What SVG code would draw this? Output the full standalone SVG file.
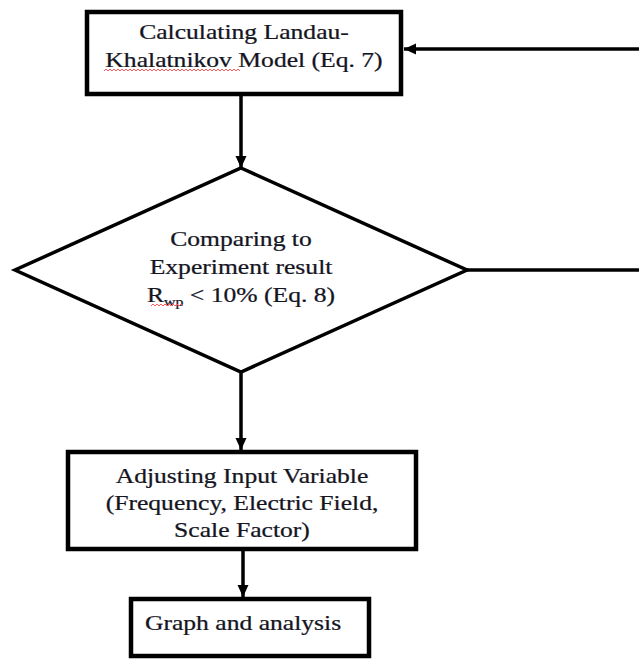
<svg xmlns="http://www.w3.org/2000/svg" width="639" height="660" viewBox="0 0 639 660">
<style>
  .box { fill: #ffffff; stroke: #000000; stroke-width: 4.5; }
  .dia { fill: #ffffff; stroke: #000000; stroke-width: 3.5; }
  .conn { fill: none; stroke: #000000; stroke-width: 3.5; }
  .lbl { font-family: "Liberation Serif", "Times New Roman", serif; font-size: 21px; fill: #15151f; stroke: #15151f; stroke-width: 0.25; text-anchor: middle; }
  .sq { fill: none; stroke: #ff5a5a; stroke-width: 1; }
</style>
<defs>
  <marker id="arrow" markerUnits="userSpaceOnUse" markerWidth="12" markerHeight="12" refX="12" refY="6" orient="auto">
    <path d="M0,0.5 L12,6 L0,11.5 Z" fill="#000000"/>
  </marker>
</defs>
<rect x="0" y="0" width="639" height="660" fill="#ffffff"/>

<g id="connectors">
  <line class="conn" x1="639" y1="49" x2="404" y2="49" marker-end="url(#arrow)"/>
  <line class="conn" x1="241" y1="96" x2="241" y2="168" marker-end="url(#arrow)"/>
  <line class="conn" x1="467" y1="270" x2="639" y2="270"/>
  <line class="conn" x1="241" y1="372" x2="241" y2="450" marker-end="url(#arrow)"/>
  <line class="conn" x1="243" y1="551" x2="243" y2="597" marker-end="url(#arrow)"/>
</g>

<g id="node-calc">
  <rect class="box" x="87" y="12" width="314" height="82"/>
  <text class="lbl" transform="translate(244,39) scale(1.22,1)">Calculating Landau-</text>
  <text class="lbl" transform="translate(244,67) scale(1.22,1)">Khalatnikov Model (Eq. 7)</text>
  <path class="sq" d="M104,71 l2,-2 l2,2 l2,-2 l2,2 l2,-2 l2,2 l2,-2 l2,2 l2,-2 l2,2 l2,-2 l2,2 l2,-2 l2,2 l2,-2 l2,2 l2,-2 l2,2 l2,-2 l2,2 l2,-2 l2,2 l2,-2 l2,2 l2,-2 l2,2 l2,-2 l2,2 l2,-2 l2,2 l2,-2 l2,2 l2,-2 l2,2 l2,-2 l2,2 l2,-2 l2,2 l2,-2 l2,2 l2,-2 l2,2 l2,-2 l2,2 l2,-2 l2,2 l2,-2 l2,2 l2,-2 l2,2 l2,-2 l2,2 l2,-2 l2,2 l2,-2 l2,2 l2,-2 l2,2 l2,-2 l2,2 l2,-2 l2,2 l2,-2 l2,2 l2,-2 l2,2 l2,-2 l2,2"/>
</g>

<g id="node-compare">
  <polygon class="dia" points="241,168 467,270 241,372 15,270"/>
  <text class="lbl" transform="translate(241,246) scale(1.22,1)">Comparing to</text>
  <text class="lbl" transform="translate(241,274) scale(1.22,1)">Experiment result</text>
  <text class="lbl" transform="translate(241,302) scale(1.22,1)">R<tspan font-size="13" dy="4">wp</tspan><tspan dy="-4"> &lt; 10% (Eq. 8)</tspan></text>
  <path class="sq" d="M151,306 l2,-2 l2,2 l2,-2 l2,2 l2,-2 l2,2 l2,-2 l2,2 l2,-2 l2,2 l2,-2 l2,2 l2,-2 l2,2 l2,-2 l2,2"/>
</g>

<g id="node-adjust">
  <rect class="box" x="68" y="452" width="348" height="97"/>
  <text class="lbl" transform="translate(242,483) scale(1.22,1)">Adjusting Input Variable</text>
  <text class="lbl" transform="translate(242,510) scale(1.22,1)">(Frequency, Electric Field,</text>
  <text class="lbl" transform="translate(242,537) scale(1.22,1)">Scale Factor)</text>
</g>

<g id="node-graph">
  <rect class="box" x="131" y="599" width="238" height="57"/>
  <text class="lbl" transform="translate(243,630) scale(1.22,1)">Graph and analysis</text>
</g>
</svg>
